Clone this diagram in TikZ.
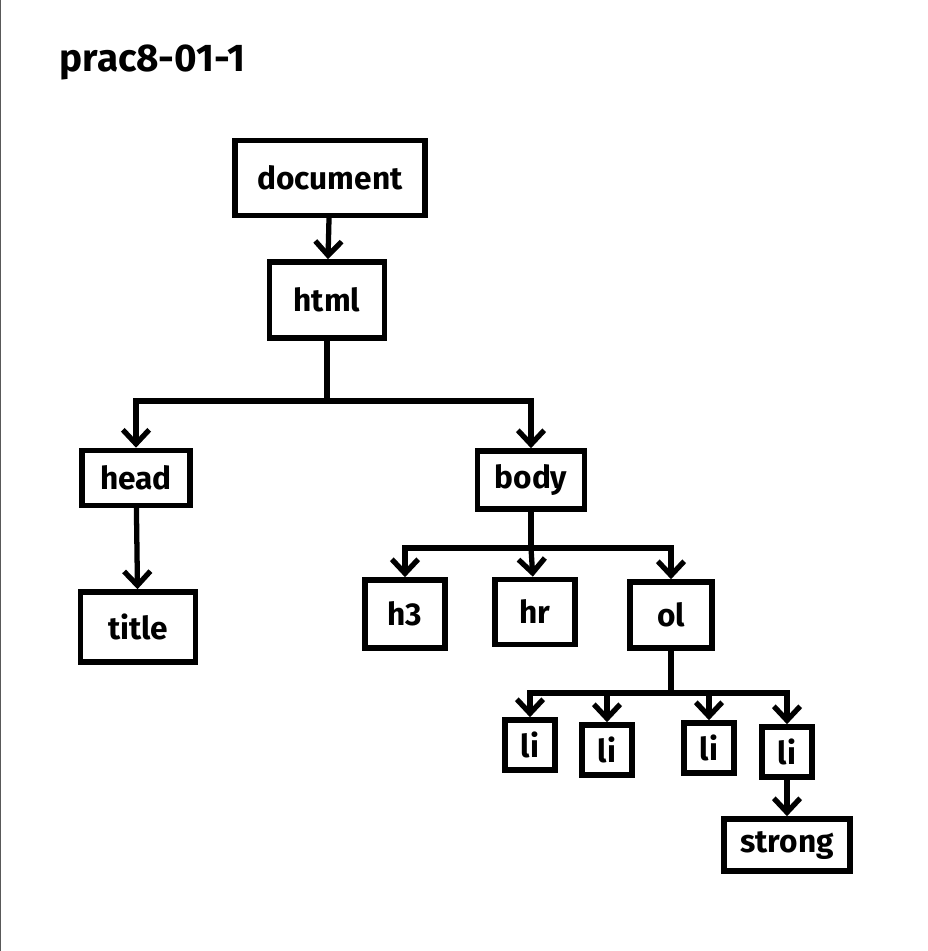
\documentclass[tikz,border=0pt]{standalone}
\usepackage{fontspec}
\setmainfont{Fira Sans}
\usetikzlibrary{arrows.meta}

\begin{document}
\begin{tikzpicture}[
    box/.style={draw=black,line width=3.2pt,font=\bfseries\fontsize{18}{20}\selectfont,inner sep=0pt},
    elbow/.style={to path={-| (\tikztotarget)}},
    tip/.style={-{Straight Barb[length=8pt,width=15pt,line width=3pt]}}
  ]
    \useasboundingbox (0,0) rectangle (18.56,-19.02);
    \draw[gray!70!black,line width=1.5pt] (0,0) -- (0,-19.02);

    \node (0) at (3.05,-1.25) {\bfseries\fontsize{22}{24}\selectfont prac8-01-1};

    \node[box,minimum width=3.8cm,minimum height=1.5cm] (1) at (6.6,-3.56) {document};
    \node[box,minimum width=2.3cm,minimum height=1.52cm] (2) at (6.54,-6.0) {html};
    \node[box,minimum width=2.16cm,minimum height=1.1cm] (3) at (2.72,-9.56) {head};
    \node[box,minimum width=2.3cm,minimum height=1.4cm] (4) at (2.76,-12.54) {title};
    \node[box,minimum width=2.14cm,minimum height=1.16cm] (5) at (10.62,-9.6) {body};
    \node[box,minimum width=1.6cm,minimum height=1.36cm] (6) at (8.1,-12.28) {h3};
    \node[box,minimum width=1.6cm,minimum height=1.3cm] (7) at (10.7,-12.24) {hr};
    \node[box,minimum width=1.64cm,minimum height=1.32cm] (8) at (13.42,-12.3) {ol};
    \node[box,minimum width=1.0cm,minimum height=1.0cm] (9) at (10.6,-14.9) {li};
    \node[box,minimum width=1.0cm,minimum height=1.0cm] (10) at (12.14,-15.0) {li};
    \node[box,minimum width=1.0cm,minimum height=1.0cm] (11) at (14.18,-14.96) {li};
    \node[box,minimum width=1.0cm,minimum height=1.0cm] (12) at (15.74,-15.04) {li};
    \node[box,minimum width=2.52cm,minimum height=1.04cm] (13) at (15.74,-16.9) {strong};

    \coordinate (a) at (6.54,-8.02);
    \coordinate (b) at (10.62,-10.96);
    \coordinate (c) at (13.42,-13.86);

    \path[line width=3pt,line cap=round]
    (1) edge [tip] (2)
    (2) edge (a)
    (a) edge [tip,elbow] (3)
    (a) edge [tip,elbow] (5)
    (3) edge [tip] (4)

    (5) edge (b)
    (b) edge [tip,elbow] (6)
    (b) edge [tip] (7)
    (b) edge [tip,elbow] (8)

    (8) edge (c)
    (c) edge [tip,elbow] (9)
    (c) edge [tip,elbow] (10)
    (c) edge [tip,elbow] (11)
    (c) edge [tip,elbow] (12)
    (12) edge [tip] (13);
\end{tikzpicture}
\end{document}
